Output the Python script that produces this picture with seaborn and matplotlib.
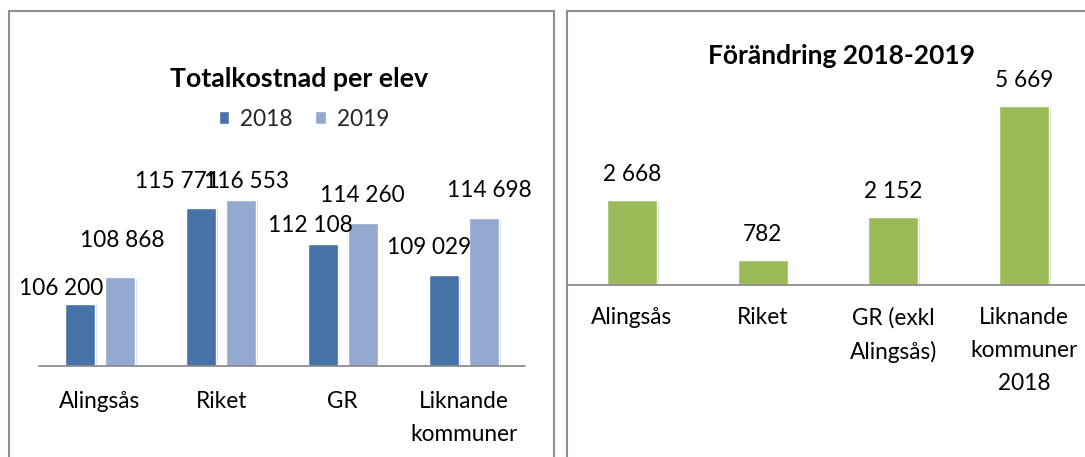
import matplotlib
matplotlib.use('Agg')
import matplotlib.pyplot as plt
import matplotlib.patheffects as pe
from matplotlib.patches import Patch, Rectangle
import pandas as pd
import seaborn as sns

# vänster diagram: totalkostnad per elev
omraden = ['Alingsås', 'Riket', 'GR', 'Liknande kommuner']
omrade_etiketter = ['Alingsås', 'Riket', 'GR', 'Liknande\nkommuner']
ar = ['2018', '2019']
kostnad_2018 = [106200, 115771, 112108, 109029]
kostnad_2019 = [108868, 116553, 114260, 114698]

# höger diagram: förändring 2018-2019
jamforelse = ['Alingsås', 'Riket', 'GR (exkl Alingsås)', 'Liknande kommuner 2018']
jamforelse_etiketter = ['Alingsås', 'Riket', 'GR (exkl\nAlingsås)', 'Liknande\nkommuner\n2018']
forandring = [2668, 782, 2152, 5669]

# etikettförskjutning i pixlar (dx, avstånd ovanför stapeln), som i originalet
nudge_2018 = [(-18.5, 9), (-24, 20), (-12.5, 12), (-14.5, 21)]
nudge_2019 = [(2.5, 30), (5.5, 12), (0, 21), (5, 21)]

c18, c19, green = '#4572A7', '#93A9CF', '#9BBB59'
border = '#8e8e8e'

sns.set_style('white')
plt.rcParams['font.family'] = ['Lato', 'DejaVu Sans']

W, H = 1085, 457
fig = plt.figure(figsize=(W / 100, H / 100), dpi=100)


def frac(x0, y0, x1, y1):
    return [x0 / W, 1 - y1 / H, (x1 - x0) / W, (y1 - y0) / H]


def fmt(v):
    return f'{v:,}'.replace(',', ' ')


PX = 0.72  # points per pixel at 100 dpi
shadow = [pe.SimplePatchShadow(offset=(1.2, -1.2), shadow_rgbFace='#808080', alpha=0.3), pe.Normal()]

# panelramar
fig.add_artist(Rectangle((9 / W, -0.1), (554 - 9) / W, 1.1 - 11 / H, transform=fig.transFigure,
                         fill=False, edgecolor=border, lw=1.5))
fig.add_artist(Rectangle((567 / W, -0.1), 0.6, 1.1 - 11 / H, transform=fig.transFigure,
                         fill=False, edgecolor=border, lw=1.5))

# ---- vänster
ax1 = fig.add_axes(frac(39.3, 165.1, 524.7, 366))
df1 = pd.DataFrame({
    'område': omraden * 2,
    'år': [ar[0]] * 4 + [ar[1]] * 4,
    'kostnad': kostnad_2018 + kostnad_2019,
})
sns.barplot(data=df1, x='område', y='kostnad', hue='år', palette=[c18, c19], width=0.66, gap=0.25,
            saturation=1, errorbar=None, legend=False, ax=ax1)
ax1.set_ylim(100000, 120000)
ax1.set_xlim(-0.5, 3.5)
ax1.axhline(100000, color=border, lw=1.3, clip_on=False)

for cont, nudges in zip(ax1.containers, [nudge_2018, nudge_2019]):
    for bar, val, (dx, dy) in zip(cont, cont.datavalues, nudges):
        bar.set_path_effects(shadow)
        ax1.annotate(fmt(int(val)), (bar.get_x() + bar.get_width() / 2, bar.get_height()),
                     xytext=(dx * PX, dy * PX), textcoords='offset points',
                     ha='center', va='baseline', fontsize=16.3, color='black', annotation_clip=False)

ax1.set_xticks(range(len(omraden)))
ax1.set_xticklabels(omrade_etiketter, linespacing=1.72)
ax1.set_yticks([])
ax1.tick_params(axis='x', length=0, pad=18, labelsize=16.3, labelcolor='black')
ax1.set_xlabel('')
ax1.set_ylabel('')
sns.despine(ax=ax1, left=True, bottom=True)

handles = [Patch(facecolor=c18, label=ar[0]), Patch(facecolor=c19, label=ar[1])]
fig.legend(handles=handles, loc='center', bbox_to_anchor=(304 / W, 1 - 119 / H), ncol=2, frameon=False,
           fontsize=16.3, handlelength=0.45, handleheight=0.45, handletextpad=0.5, columnspacing=1.0)

fig.text(299 / W, 1 - 87 / H, 'Totalkostnad per elev', ha='center', va='baseline',
         fontsize=19.3, fontweight='bold', color='black')

# ---- höger
ax2 = fig.add_axes(frac(566.7, 79.75, 1089.5, 379))
sns.barplot(x=jamforelse, y=forandring, color=green, width=0.383, saturation=1, errorbar=None, ax=ax2)
ax2.set_ylim(-3000, 6500)
ax2.set_xlim(-0.5, 3.5)
ax2.axhline(0, color=border, lw=1.3, clip_on=False)

for bar, val in zip(ax2.containers[0], ax2.containers[0].datavalues):
    bar.set_path_effects(shadow)
    ax2.annotate(fmt(int(val)), (bar.get_x() + bar.get_width() / 2, bar.get_height()),
                 xytext=(0, 19 * PX), textcoords='offset points',
                 ha='center', va='baseline', fontsize=16.3, color='black', annotation_clip=False)

sns.despine(ax=ax2, left=True, bottom=True)
# tick-etiketterna sitter strax under nollinjen, inte vid axelns nederkant
ax2.spines['bottom'].set_position(('data', 0))
ax2.set_xticks(range(len(jamforelse)))
ax2.set_xticklabels(jamforelse_etiketter, linespacing=1.72)
ax2.set_yticks([])
ax2.set_xlabel('')
ax2.set_ylabel('')
ax2.tick_params(axis='x', length=0, pad=16, labelsize=16.3, labelcolor='black')

fig.text(841.5 / W, 1 - 64 / H, 'Förändring 2018-2019', ha='center', va='baseline',
         fontsize=19, fontweight='bold', color='black')

fig.savefig('out.png', dpi=100, facecolor='white')
